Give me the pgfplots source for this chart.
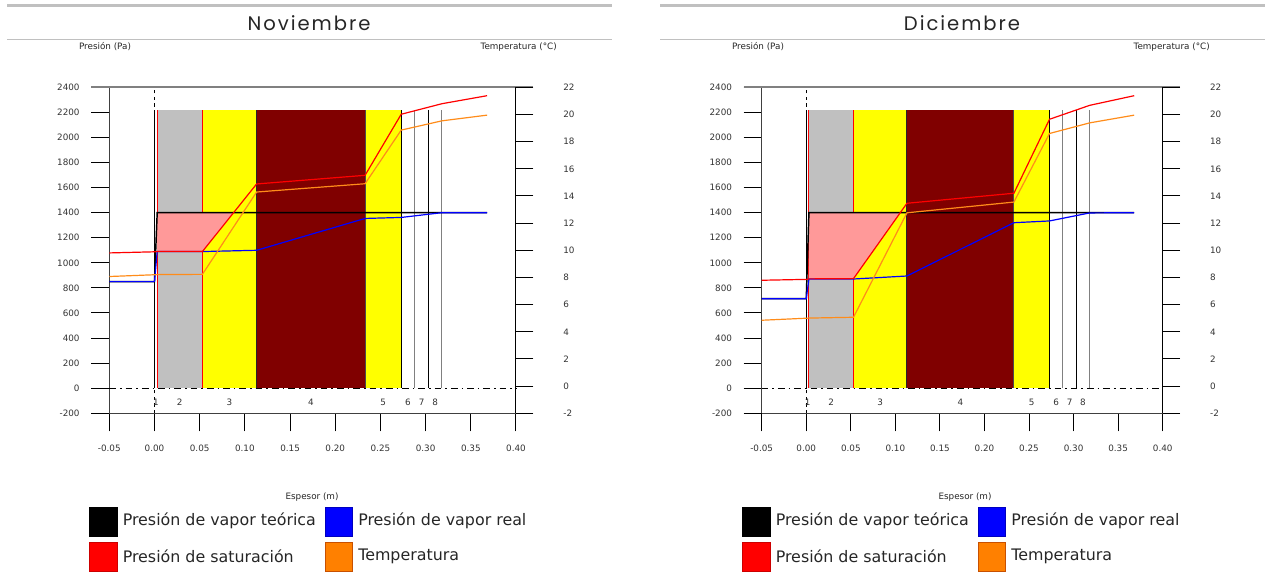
\documentclass[border=0pt]{standalone}
\usepackage{pgfplots}
\pgfplotsset{compat=1.18}
\usepackage{fontspec}
\setmainfont{DejaVu Sans}
\newfontfamily\titlefont[LetterSpace=10]{Poppins}
\definecolor{lgray}{HTML}{C0C0C0}
\definecolor{dred}{HTML}{800000}
\definecolor{ylw}{HTML}{FFFF00}
\definecolor{pinkc}{HTML}{FF9999}
\definecolor{orng}{HTML}{FF8C1A}
\definecolor{hdr}{HTML}{C0C0C0}
\newcommand\smallf{\fontsize{6.6}{7.9}\selectfont}
\newcommand\legf{\fontsize{11.9}{14}\selectfont}
\pgfplotsset{
 presaxis/.style={
  scale only axis, height=244.5pt, xmin=-0.05, xmax=0.40, ymin=-200, ymax=2400,
  axis x line*=bottom, axis y line*=left, tick align=outside, major tick length=13.5pt,
  xtick={-0.05,0,0.05,0.1,0.15,0.2,0.25,0.3,0.35,0.4},
  xticklabels={-0.05,0.00,0.05,0.10,0.15,0.20,0.25,0.30,0.35,0.40},
  ytick={-200,0,200,400,600,800,1000,1200,1400,1600,1800,2000,2200,2400},
  yticklabels={-200,0,200,400,600,800,1000,1200,1400,1600,1800,2000,2200,2400},
  axis line style={black!75, line width=0.75pt},
  tick style={black, line width=0.75pt},
  tick label style={font=\smallf, text=black!80},
  xticklabel style={yshift=-6.75pt},
  yticklabel style={xshift=-5.25pt},
  clip=false, anchor=south west,
 },
 tempaxis/.style={
  scale only axis, height=244.5pt, xmin=-0.05, xmax=0.40, ymin=-2, ymax=22,
  axis x line=none, axis y line*=right, tick align=outside, major tick length=13pt,
  ytick={-2,0,2,4,6,8,10,12,14,16,18,20,22},
  yticklabels={-2,0,2,4,6,8,10,12,14,16,18,20,22},
  axis line style={black, line width=0.75pt},
  tick style={black, line width=0.75pt},
  tick label style={font=\smallf, text=black!80},
  yticklabel style={xshift=19pt},
  clip=false, anchor=south west,
 },
 layer/.style={draw=none, forget plot},
 bline/.style={line width=0.75pt},
 dline/.style={line width=0.9pt},
}
\newcommand\layernums{%
  \node[font=\smallf, text=black!80] at (axis cs:0.0015,-115) {1};
  \node[font=\smallf, text=black!80] at (axis cs:0.028,-115) {2};
  \node[font=\smallf, text=black!80] at (axis cs:0.083,-115) {3};
  \node[font=\smallf, text=black!80] at (axis cs:0.173,-115) {4};
  \node[font=\smallf, text=black!80] at (axis cs:0.253,-115) {5};
  \node[font=\smallf, text=black!80] at (axis cs:0.2805,-115) {6};
  \node[font=\smallf, text=black!80] at (axis cs:0.2955,-115) {7};
  \node[font=\smallf, text=black!80] at (axis cs:0.3105,-115) {8};
}
\newcommand\layerbody{%
\addplot[layer, fill=lgray] coordinates {(0.003,0) (0.053,0) (0.053,2220) (0.003,2220)} -- cycle;
\addplot[layer, fill=ylw] coordinates {(0.053,0) (0.113,0) (0.113,2220) (0.053,2220)} -- cycle;
\addplot[layer, fill=dred] coordinates {(0.113,0) (0.233,0) (0.233,2220) (0.113,2220)} -- cycle;
\addplot[layer, fill=ylw] coordinates {(0.233,0) (0.273,0) (0.273,2220) (0.233,2220)} -- cycle;
\addplot[black, dash pattern=on 2.5pt off 2.5pt, line width=0.6pt] coordinates {(0,-200) (0,2380)};
\addplot[black, dash pattern=on 5pt off 3pt on 1.2pt off 3pt, line width=0.6pt] coordinates {(-0.05,0) (0.40,0)};
\addplot[bline, black] coordinates {(0,0) (0,2220)};
\addplot[bline, red] coordinates {(0.003,0) (0.003,2220)};
\addplot[bline, red] coordinates {(0.053,0) (0.053,2220)};
\addplot[bline, black!85] coordinates {(0.113,0) (0.113,2220)};
\addplot[bline, black!70] coordinates {(0.233,0) (0.233,2220)};
\addplot[bline, black] coordinates {(0.273,0) (0.273,2220)};
\addplot[bline, gray] coordinates {(0.288,0) (0.288,2220)};
\addplot[bline, black] coordinates {(0.303,0) (0.303,2220)};
\addplot[bline, gray] coordinates {(0.318,0) (0.318,2220)};
}
\begin{document}
\begin{tikzpicture}
\useasboundingbox (0,0) rectangle (951pt,433.5pt);

% ================= LEFT: Noviembre =================
\begin{axis}[presaxis, width=305.025pt, at={(81.975pt,123.525pt)}]
\layerbody
\addplot[draw=none, fill=pinkc] coordinates {(0.003,1090) (0.053,1090) (0.0875,1400) (0.003,1400)} -- cycle;
\addplot[black, line width=1.1pt] coordinates {(-0.05,850) (0,850) (0.003,1400) (0.368,1400)};
\addplot[dline, blue] coordinates {(-0.05,850) (0,850) (0.003,1090) (0.053,1090) (0.113,1100) (0.233,1354) (0.273,1362) (0.318,1400) (0.368,1400)};
\addplot[dline, red] coordinates {(-0.05,1079) (0,1088) (0.003,1090) (0.053,1090) (0.113,1629) (0.233,1698) (0.273,2185) (0.318,2269) (0.368,2333)};
\draw[gray, line width=1.5pt] ([xshift=-13.5pt]rel axis cs:0,1) -- ([xshift=13pt]rel axis cs:1,1);
\layernums
\end{axis}
\begin{axis}[tempaxis, width=305.025pt, at={(81.975pt,123.525pt)}]
\addplot[dline, orng] coordinates {(-0.05,8.07) (0,8.2) (0.003,8.21) (0.053,8.23) (0.113,14.29) (0.233,14.9) (0.273,18.85) (0.318,19.53) (0.368,19.95)};
\end{axis}

% ================= RIGHT: Diciembre =================
\begin{axis}[presaxis, width=300.75pt, at={(571.275pt,123.525pt)}]
\layerbody
\addplot[draw=none, fill=pinkc] coordinates {(0.003,872) (0.053,874) (0.1055,1400) (0.003,1400)} -- cycle;
\addplot[black, line width=1.1pt] coordinates {(-0.05,714) (0,714) (0.003,1400) (0.368,1400)};
\addplot[dline, blue] coordinates {(-0.05,714) (0,714) (0.003,871) (0.053,871) (0.113,895) (0.233,1320) (0.273,1334) (0.318,1398) (0.368,1400)};
\addplot[dline, red] coordinates {(-0.05,861) (0,868) (0.003,872) (0.053,874) (0.113,1475) (0.233,1555) (0.273,2145) (0.318,2256) (0.368,2333)};
\draw[gray, line width=1.5pt] ([xshift=-13.5pt]rel axis cs:0,1) -- ([xshift=13pt]rel axis cs:1,1);
\layernums
\end{axis}
\begin{axis}[tempaxis, width=300.75pt, at={(571.275pt,123.525pt)}]
\addplot[dline, orng] coordinates {(-0.05,4.85) (0,5.0) (0.003,5.01) (0.053,5.07) (0.113,12.76) (0.233,13.55) (0.273,18.6) (0.318,19.38) (0.368,19.95)};
\end{axis}

% ================= decorations in pixel units =================
\begin{scope}[x=0.75pt, y=-0.75pt, yshift=433.5pt]
\foreach \ox/\ttl in {0/Noviembre,653/Diciembre}{
  \begin{scope}[xshift=\ox*0.75pt]
  \draw[hdr, line width=2.25pt] (7,5.5) -- (612,5.5);
  \draw[hdr, line width=0.75pt] (7,40) -- (612,40);
  \node[font=\titlefont\fontsize{14.7}{17}\selectfont, text=black!85] at (309,23) {\ttl};
  \node[font=\smallf, text=black!85] at (105,47) {Presión (Pa)};
  \node[font=\smallf, text=black!85, anchor=east, inner sep=0pt] at (557,47) {Temperatura (°C)};
  \node[font=\smallf, text=black!85] at (312,497) {Espesor (m)};
  \filldraw[fill=black, draw=black, line width=0.75pt] (89,508) rectangle (117,537);
  \filldraw[fill=blue, draw=blue!75!black, line width=0.75pt] (325,508) rectangle (352,537);
  \filldraw[fill=red, draw=red!80!black, line width=0.75pt] (89,543) rectangle (117,572);
  \filldraw[fill={rgb,255:red,255;green,128;blue,0}, draw={rgb,255:red,200;green,80;blue,0}, line width=0.75pt] (325,543) rectangle (352,572);
  \node[font=\legf, text=black!85, anchor=west, inner sep=0pt] at (122.5,521) {Presión de vapor teórica};
  \node[font=\legf, text=black!85, anchor=west, inner sep=0pt] at (358,521) {Presión de vapor real};
  \node[font=\legf, text=black!85, anchor=west, inner sep=0pt] at (122.5,556) {Presión de saturación};
  \node[font=\legf, text=black!85, anchor=west, inner sep=0pt] at (358,556) {Temperatura};
  \end{scope}
}
\end{scope}
\end{tikzpicture}
\end{document}
